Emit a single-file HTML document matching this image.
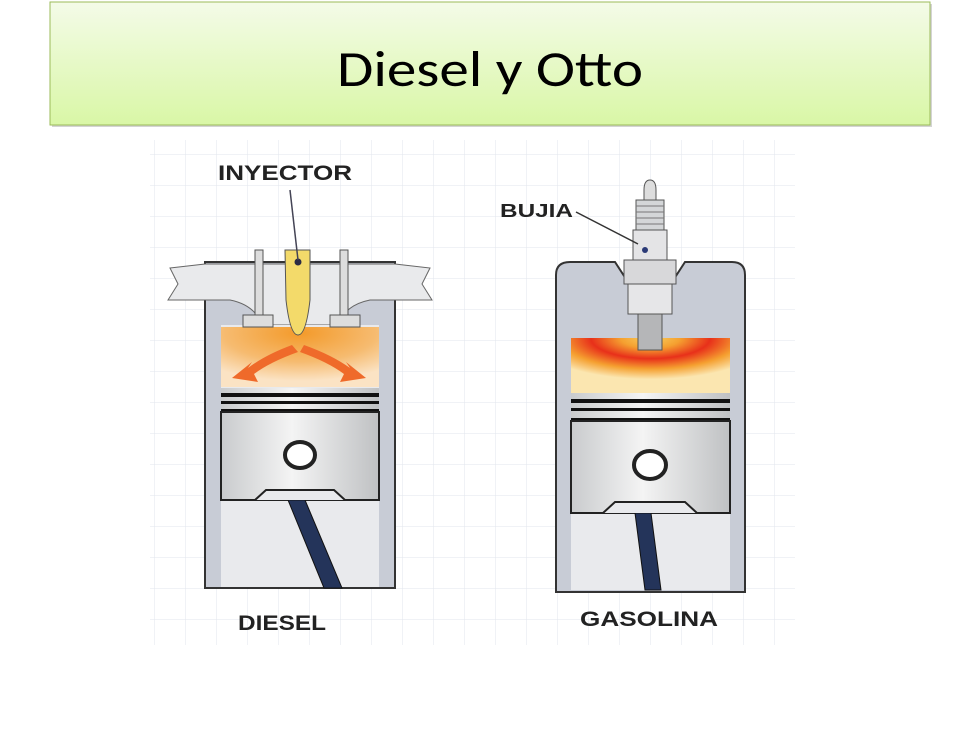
<!DOCTYPE html>
<html><head><meta charset="utf-8"><style>
html,body{margin:0;padding:0;background:#fff;width:978px;height:734px;overflow:hidden}
</style></head><body>
<svg width="978" height="734" viewBox="0 0 978 734" xmlns="http://www.w3.org/2000/svg">
<defs>
<linearGradient id="tg" x1="0" y1="0" x2="0" y2="1"><stop offset="0" stop-color="#f4fbe8"/><stop offset="1" stop-color="#d9f7a6"/></linearGradient>
<linearGradient id="pist" x1="0" y1="0" x2="1" y2="0"><stop offset="0" stop-color="#c9cbcd"/><stop offset="0.45" stop-color="#f4f4f4"/><stop offset="1" stop-color="#bfc1c3"/></linearGradient>
<radialGradient id="fireD" cx="0.5" cy="0.1" r="0.8"><stop offset="0" stop-color="#f39a2a"/><stop offset="0.6" stop-color="#f6bb70"/><stop offset="1" stop-color="#fbe3c4"/></radialGradient>
<radialGradient id="fireG" cx="0.5" cy="0" r="0.75"><stop offset="0" stop-color="#f8d060"/><stop offset="0.25" stop-color="#f5a030"/><stop offset="0.5" stop-color="#e8301a"/><stop offset="0.75" stop-color="#f5a030"/><stop offset="1" stop-color="#fbe6b0"/></radialGradient>
<pattern id="grid" width="31" height="31" patternUnits="userSpaceOnUse"><path d="M31 0V31M0 31H31" stroke="#e2e5ec" stroke-width="1" fill="none"/></pattern>
</defs>
<rect x="52" y="4" width="880" height="123" fill="#aaa" opacity="0.5"/>
<rect x="50" y="2" width="880" height="123" fill="url(#tg)" stroke="#9bbb59" stroke-width="1"/>
<text x="490" y="86" font-family="Calibri,Carlito,'Liberation Sans',sans-serif" font-size="50" text-anchor="middle" fill="#000" textLength="306" lengthAdjust="spacingAndGlyphs">Diesel y Otto</text>

<rect x="150" y="140" width="645" height="505" fill="url(#grid)"/>

<!-- DIESEL -->
<path d="M205 262H395V588H205Z" fill="#c8ccd6" stroke="#333" stroke-width="2"/>
<path d="M170 268 L205 264 H395 L430 268 L422 284 L432 300 H370 Q345 305 338 325 H262 Q255 305 230 300 H168 L178 284 Z" fill="#e9eaec" stroke="#666" stroke-width="1"/>
<rect x="221" y="325" width="158" height="262" fill="#e9eaed"/>
<rect x="221" y="327" width="158" height="60" fill="url(#fireD)"/>
<rect x="255" y="250" width="8" height="68" fill="#ddd" stroke="#555"/>
<rect x="340" y="250" width="8" height="68" fill="#ddd" stroke="#555"/>
<rect x="243" y="315" width="30" height="12" fill="#ddd" stroke="#555"/>
<rect x="330" y="315" width="30" height="12" fill="#ddd" stroke="#555"/>
<path d="M285 250 H310 V300 Q306 335 298 335 Q290 335 286 300 Z" fill="#f3da6a" stroke="#555"/>
<circle cx="298" cy="262" r="3.5" fill="#2b2b44"/>
<line x1="290" y1="190" x2="298" y2="260" stroke="#445" stroke-width="1.5"/>
<path d="M292 345 Q265 355 248 368 L252 362 L232 378 L258 382 L254 374 Q270 362 298 352Z" fill="#ef6a2a"/>
<path d="M304 345 Q332 355 350 368 L346 362 L366 378 L340 382 L344 374 Q328 362 300 352Z" fill="#ef6a2a"/>
<rect x="221" y="388" width="158" height="112" fill="url(#pist)"/>
<rect x="221" y="393" width="158" height="4" fill="#111"/>
<rect x="221" y="401" width="158" height="3" fill="#111"/>
<rect x="221" y="409" width="158" height="3" fill="#111"/>
<rect x="221" y="412" width="158" height="88" fill="none" stroke="#222" stroke-width="2"/>
<path d="M288 500 L305 500 L342 588 L324 588Z" fill="#24345a" stroke="#111"/>
<path d="M255 500 L266 490 H334 L345 500" fill="#e9eaed" stroke="#222" stroke-width="2"/>
<ellipse cx="300" cy="455" rx="15" ry="13" fill="#fff" stroke="#222" stroke-width="4"/>
<text x="218" y="180" font-family="'Liberation Sans',sans-serif" font-weight="bold" font-size="21" fill="#222" textLength="134" lengthAdjust="spacingAndGlyphs">INYECTOR</text>
<text x="238" y="630" font-family="'Liberation Sans',sans-serif" font-weight="bold" font-size="21" fill="#222" textLength="88" lengthAdjust="spacingAndGlyphs">DIESEL</text>

<!-- GASOLINA -->
<path d="M556 592 V275 Q556 262 570 262 H615 L628 282 H672 L685 262 H732 Q745 262 745 275 V592Z" fill="#c8ccd6" stroke="#333" stroke-width="2"/>
<rect x="571" y="338" width="159" height="252" fill="#e9eaed"/>
<rect x="571" y="338" width="159" height="55" fill="url(#fireG)"/>
<rect x="571" y="393" width="159" height="120" fill="url(#pist)"/>
<rect x="571" y="399" width="159" height="4" fill="#111"/>
<rect x="571" y="408" width="159" height="3" fill="#111"/>
<rect x="571" y="418" width="159" height="3" fill="#111"/>
<rect x="571" y="421" width="159" height="92" fill="none" stroke="#222" stroke-width="2"/>
<path d="M635 513 L651 513 L661 590 L645 590Z" fill="#24345a" stroke="#111"/>
<path d="M603 513 L615 502 H685 L697 513" fill="#e9eaed" stroke="#222" stroke-width="2"/>
<ellipse cx="650" cy="465" rx="16" ry="14" fill="#fff" stroke="#222" stroke-width="4"/>
<!-- spark plug -->
<path d="M644 190 Q644 180 650 180 Q656 180 656 190 V200 H644Z" fill="#ddd" stroke="#555"/>
<rect x="636" y="200" width="28" height="30" fill="#d4d6d8" stroke="#555"/>
<path d="M636 206H664M636 212H664M636 218H664M636 224H664" stroke="#777"/>
<rect x="633" y="230" width="34" height="30" fill="#e4e4e6" stroke="#555"/>
<circle cx="645" cy="250" r="3" fill="#2b3a77"/>
<rect x="624" y="260" width="52" height="24" fill="#d8d8da" stroke="#555"/>
<rect x="628" y="284" width="44" height="30" fill="#e6e6e8" stroke="#555"/>
<rect x="638" y="314" width="24" height="36" fill="#b5b6b8" stroke="#555"/>
<line x1="576" y1="212" x2="638" y2="244" stroke="#333" stroke-width="1.5"/>
<text x="500" y="217" font-family="'Liberation Sans',sans-serif" font-weight="bold" font-size="18" fill="#222" textLength="73" lengthAdjust="spacingAndGlyphs">BUJIA</text>
<text x="580" y="626" font-family="'Liberation Sans',sans-serif" font-weight="bold" font-size="21" fill="#222" textLength="138" lengthAdjust="spacingAndGlyphs">GASOLINA</text>
</svg>
</body></html>
